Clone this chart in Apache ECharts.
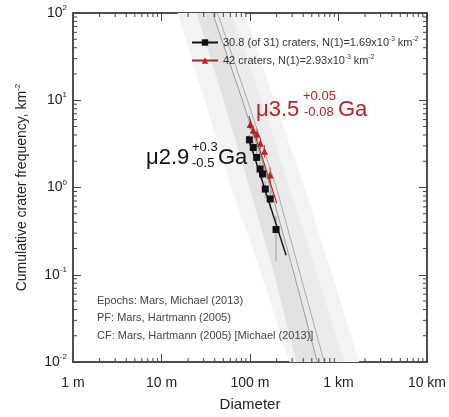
<!DOCTYPE html>
<html>
<head>
<meta charset="utf-8">
<script src="https://cdn.jsdelivr.net/npm/echarts@6/dist/echarts.min.js"></script>
<style>
  html, body { margin: 0; padding: 0; background: #fff; }
  #main { width: 449px; height: 417px; }
</style>
</head>
<body>
<div id="main"></div>
<script>
// crater size-frequency data: diameter in km, cumulative frequency in km^-2
var blackD = [0.0986, 0.109, 0.119, 0.130, 0.139, 0.149, 0.169, 0.197];
var blackN = [3.51, 2.87, 2.21, 1.63, 1.43, 0.96, 0.74, 0.33];
var blackLow = [3.0, 2.4, 1.85, 1.35, 1.17, 0.76, 0.57, 0.142];
var blackHigh = [4.0, 3.35, 2.6, 1.95, 1.72, 1.18, 0.93, 0.47];

var redD = [0.1005, 0.109, 0.120, 0.131, 0.146, 0.169];
var redN = [5.29, 4.52, 4.07, 3.21, 2.61, 1.39];
var redLow = [4.6, 3.9, 3.5, 2.75, 2.2, 1.12];
var redHigh = [6.0, 5.2, 4.7, 3.7, 3.05, 1.7];

// fitted isochron segments
var blackFitD = [0.0944, 0.256];
var blackFitN = [3.89, 0.167];
var redFitD = [0.0975, 0.201];
var redFitN = [6.58, 0.657];

// chronology bands (diameter in km at each frequency level)
var bandLevels = [100, 10, 1, 0.1, 0.01];
var outerLeft = [0.0152, 0.0307, 0.0618, 0.135, 0.279];
var outerRight = [0.0867, 0.189, 0.411, 0.850, 1.71];
var midLeft = [0.0250, 0.0503, 0.0987, 0.189, 0.334];
var isoLine1 = [0.0378, 0.0823, 0.170, 0.317, 0.576];
var isoLine2 = [0.0430, 0.0937, 0.199, 0.371, 0.691];
var innerRight = [0.0618, 0.135, 0.279, 0.576, 1.16];

// axis ticks
var xTickLabels = ['1 m', '10 m', '100 m', '1 km', '10 km'];
var minorMult = [2, 3, 4, 5, 6, 7, 8, 9];
var xDecades = [0.001, 0.01, 0.1, 1];
var yDecades = [0.01, 0.1, 1, 10];

var blackName = '30.8 (of 31) craters, N(1)=1.69x10-3 km-2';
var redName = '42 craters, N(1)=2.93x10-3 km-2';
var legendLabels = {};
legendLabels[blackName] = '30.8 (of 31) craters, N(1)=1.69x10{s|-3} km{s|-2}';
legendLabels[redName] = '42 craters, N(1)=2.93x10{s|-3} km{s|-2}';

var font = 'Liberation Sans, Arial, Helvetica, sans-serif';
var redColor = '#b3232a';

function zip(a, b) {
  return a.map(function (v, i) { return [v, b[i]]; });
}
function zip3(a, b, c) {
  return a.map(function (v, i) { return [v, b[i], c[i]]; });
}

var xMinor = [];
xDecades.forEach(function (d) {
  minorMult.forEach(function (m) { xMinor.push([d * m, 1]); });
});
var yMinor = [];
yDecades.forEach(function (d) {
  minorMult.forEach(function (m) { yMinor.push([1, d * m]); });
});

var bands = [
  { left: outerLeft, right: outerRight, color: '#f3f3f3' },
  { left: isoLine2, right: innerRight, color: '#ebebeb' },
  { left: midLeft, right: isoLine1, color: '#e2e2e2' },
  { left: isoLine1, right: isoLine2, color: '#e9e9e9' }
];

function renderBand(params, api) {
  var b = bands[api.value(2)];
  var pts = [];
  bandLevels.forEach(function (n, i) { pts.push(api.coord([b.left[i], n])); });
  for (var i = bandLevels.length - 1; i >= 0; i--) {
    pts.push(api.coord([b.right[i], bandLevels[i]]));
  }
  return { type: 'polygon', shape: { points: pts }, style: { fill: b.color } };
}

function renderIsoLines(params, api) {
  var lines = [isoLine1, isoLine2];
  var colors = ['#8a8a8a', '#9a9a9a'];
  return {
    type: 'group',
    children: lines.map(function (l, k) {
      return {
        type: 'polyline',
        shape: { points: bandLevels.map(function (n, i) { return api.coord([l[i], n]); }) },
        style: { stroke: colors[k], lineWidth: 0.8, fill: null }
      };
    })
  };
}

function errRender(color) {
  return function (params, api) {
    var p1 = api.coord([api.value(0), api.value(1)]);
    var p2 = api.coord([api.value(0), api.value(2)]);
    return {
      type: 'line',
      shape: { x1: p1[0], y1: p1[1], x2: p2[0], y2: p2[1] },
      style: { stroke: color, lineWidth: 0.8 }
    };
  };
}

function minorX(params, api) {
  var r = params.coordSys;
  var x = api.coord([api.value(0), 1])[0];
  return {
    type: 'group',
    children: [
      { type: 'line', shape: { x1: x, y1: r.y + r.height, x2: x, y2: r.y + r.height - 4 }, style: { stroke: '#444', lineWidth: 1 } },
      { type: 'line', shape: { x1: x, y1: r.y, x2: x, y2: r.y + 4 }, style: { stroke: '#444', lineWidth: 1 } }
    ]
  };
}

function minorY(params, api) {
  var r = params.coordSys;
  var y = api.coord([1, api.value(1)])[1];
  return {
    type: 'group',
    children: [
      { type: 'line', shape: { x1: r.x, y1: y, x2: r.x + 4, y2: y }, style: { stroke: '#444', lineWidth: 1 } },
      { type: 'line', shape: { x1: r.x + r.width, y1: y, x2: r.x + r.width - 4, y2: y }, style: { stroke: '#444', lineWidth: 1 } }
    ]
  };
}

function label(x, y, text, size, color) {
  return { type: 'text', left: x, top: y, z: 100, style: { text: text, fontSize: size, fill: color, fontFamily: font } };
}

var supStyle = { fontSize: 8, verticalAlign: 'top', lineHeight: 8, fontFamily: font, color: '#222' };

var chart = echarts.init(document.getElementById('main'));
chart.setOption({
  animation: false,
  textStyle: { fontFamily: font },
  grid: { left: 73, right: 21, top: 13, bottom: 53, show: true, borderColor: '#444', borderWidth: 1.5, backgroundColor: 'transparent' },
  xAxis: [
    {
      type: 'log', logBase: 10, min: 0.001, max: 10, position: 'bottom',
      name: 'Diameter', nameLocation: 'middle', nameGap: 35,
      nameTextStyle: { fontSize: 15, color: '#222', fontFamily: font },
      axisLine: { lineStyle: { color: '#444', width: 1.5 } },
      axisTick: { inside: true, length: 8, lineStyle: { color: '#444' } },
      splitLine: { show: false },
      axisLabel: {
        margin: 14, fontSize: 14, color: '#222', fontFamily: font,
        formatter: function (v) { return xTickLabels[Math.round(Math.log10(v)) + 3]; }
      }
    },
    {
      type: 'log', logBase: 10, min: 0.001, max: 10, position: 'top',
      axisLine: { lineStyle: { color: '#444', width: 1.5 } },
      axisTick: { inside: true, length: 8, lineStyle: { color: '#444' } },
      axisLabel: { show: false }, splitLine: { show: false }
    }
  ],
  yAxis: [
    {
      type: 'log', logBase: 10, min: 0.01, max: 100, position: 'left',
      name: '{a|Cumulative crater frequency, km}{s|-2}', nameLocation: 'middle', nameGap: 43,
      nameTextStyle: {
        rich: {
          a: { fontSize: 14, lineHeight: 16, color: '#222', fontFamily: font },
          s: supStyle
        }
      },
      axisLine: { lineStyle: { color: '#444', width: 1.5 } },
      axisTick: { inside: true, length: 8, lineStyle: { color: '#444' } },
      splitLine: { show: false },
      axisLabel: {
        margin: 6,
        formatter: function (v) { return '{b|10}{s|' + Math.round(Math.log10(v)) + '}'; },
        rich: {
          b: { fontSize: 14, lineHeight: 18, color: '#222', fontFamily: font },
          s: supStyle
        }
      }
    },
    {
      type: 'log', logBase: 10, min: 0.01, max: 100, position: 'right',
      axisLine: { lineStyle: { color: '#444', width: 1.5 } },
      axisTick: { inside: true, length: 8, lineStyle: { color: '#444' } },
      axisLabel: { show: false }, splitLine: { show: false }
    }
  ],
  legend: {
    orient: 'vertical', left: 186, top: 31, itemWidth: 26, itemHeight: 8, itemGap: 5, textGap: 3,
    data: [blackName, redName],
    formatter: function (name) { return legendLabels[name]; },
    textStyle: {
      fontSize: 11, color: '#333', fontFamily: font, lineHeight: 13,
      rich: { s: { fontSize: 6.5, verticalAlign: 'top', lineHeight: 6, color: '#333', fontFamily: font } }
    }
  },
  graphic: [
    label(97, 295, 'Epochs: Mars, Michael (2013)', 11, '#444'),
    label(97, 312, 'PF: Mars, Hartmann (2005)', 11, '#444'),
    label(97, 330, 'CF: Mars, Hartmann (2005) [Michael (2013)]', 11, '#444'),

    label(146, 147, 'μ2.9', 22, '#111'),
    label(192, 141, '+0.3', 13, '#111'),
    label(192, 157, '-0.5', 13, '#111'),
    label(218, 147, 'Ga', 22, '#111'),

    label(256, 99, 'μ3.5', 22, redColor),
    label(303, 90, '+0.05', 13, redColor),
    label(304, 106, '-0.08', 13, redColor),
    label(338, 99, 'Ga', 22, redColor)
  ],
  series: [
    {
      type: 'custom', name: 'bands', silent: true, clip: true,
      data: bands.map(function (b, i) { return [0.1, 1, i]; }),
      encode: { x: 0, y: 1 },
      renderItem: renderBand, z: 1
    },
    {
      type: 'custom', name: 'isolines', silent: true, clip: true,
      data: [[0.1, 1]], encode: { x: 0, y: 1 },
      renderItem: renderIsoLines, z: 2
    },
    {
      type: 'custom', name: 'minorX', silent: true,
      data: xMinor, encode: { x: 0, y: 1 }, renderItem: minorX, z: 10
    },
    {
      type: 'custom', name: 'minorY', silent: true,
      data: yMinor, encode: { x: 0, y: 1 }, renderItem: minorY, z: 10
    },
    {
      type: 'custom', name: 'blackErr', silent: true,
      data: zip3(blackD, blackLow, blackHigh), encode: { x: 0, y: [1, 2] },
      renderItem: errRender('#8c8c8c'), z: 3
    },
    {
      type: 'custom', name: 'redErr', silent: true,
      data: zip3(redD, redLow, redHigh), encode: { x: 0, y: [1, 2] },
      renderItem: errRender(redColor), z: 3
    },
    {
      type: 'line', name: blackName, data: zip(blackFitD, blackFitN),
      symbol: 'rect', symbolSize: 6, showSymbol: false,
      lineStyle: { color: '#111', width: 1.4 }, itemStyle: { color: '#111' }, z: 4
    },
    {
      type: 'line', name: redName, data: zip(redFitD, redFitN),
      symbol: 'triangle', symbolSize: 7, showSymbol: false,
      lineStyle: { color: redColor, width: 1.2 }, itemStyle: { color: redColor }, z: 4
    },
    {
      type: 'scatter', name: 'blackPts', data: zip(blackD, blackN),
      symbol: 'rect', symbolSize: 7, itemStyle: { color: '#111', opacity: 1 }, z: 5
    },
    {
      type: 'scatter', name: 'redPts', data: zip(redD, redN),
      symbol: 'triangle', symbolSize: 7, itemStyle: { color: redColor, opacity: 1 }, z: 5
    }
  ]
});
</script>
</body>
</html>
